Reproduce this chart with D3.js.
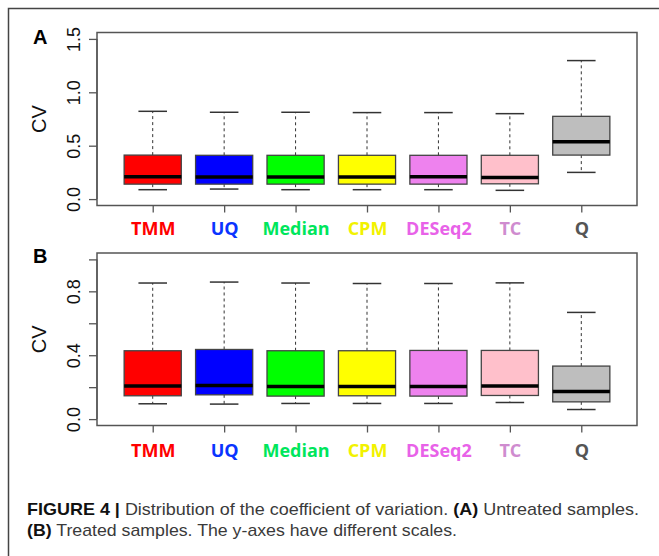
<!DOCTYPE html>
<html>
<head>
<meta charset="utf-8">
<script src="https://cdn.jsdelivr.net/npm/d3@7"></script>
<style>
  body { margin: 0; background: #fff; }
</style>
</head>
<body>
<div class="chart-container"></div>
<script>
const methods = ["TMM", "UQ", "Median", "CPM", "DESeq2", "TC", "Q"];
const boxFills = ["#ff0000", "#0000ff", "#00ff00", "#ffff00", "#ee82ee", "#ffc0cb", "#bebebe"];
const labelColors = ["#ff0000", "#0a34ff", "#00e65c", "#f2f200", "#e862e8", "#cf8ccf", "#555555"];

// panel A: untreated samples
const aLow  = [0.088, 0.094, 0.088, 0.088, 0.088, 0.082, 0.250];
const aQ1   = [0.140, 0.140, 0.140, 0.140, 0.140, 0.143, 0.412];
const aMed  = [0.210, 0.206, 0.206, 0.206, 0.210, 0.203, 0.538];
const aQ3   = [0.412, 0.410, 0.410, 0.410, 0.410, 0.410, 0.775];
const aHigh = [0.822, 0.813, 0.813, 0.810, 0.810, 0.800, 1.297];
const aTicks = [0, 0.5, 1.0, 1.5];
const aTickLabels = ["0.0", "0.5", "1.0", "1.5"];

// panel B: treated samples
const bLow  = [0.096, 0.094, 0.098, 0.098, 0.098, 0.104, 0.060];
const bQ1   = [0.146, 0.152, 0.144, 0.146, 0.144, 0.148, 0.108];
const bMed  = [0.208, 0.210, 0.204, 0.204, 0.204, 0.208, 0.173];
const bQ3   = [0.428, 0.436, 0.428, 0.428, 0.430, 0.430, 0.332];
const bHigh = [0.852, 0.858, 0.852, 0.849, 0.849, 0.853, 0.668];
const bTicks = [0, 0.2, 0.4, 0.6, 0.8, 1.0];
const bTickLabels = ["0.0", "", "0.4", "", "0.8", ""];

const width = 659, height = 556;

const svg = d3.select(".chart-container").append("svg")
    .attr("width", width)
    .attr("height", height);

// outer figure frame
svg.append("rect")
    .attr("x", 8.5).attr("y", 8.5)
    .attr("width", 700).attr("height", 600)
    .attr("fill", "none")
    .attr("stroke", "#444")
    .attr("stroke-width", 1.5);

function drawPanel(o) {
    const x = d3.scaleLinear()
        .domain([0.22, 7.78])
        .range([97, 637]);
    const y = d3.scaleLinear()
        .domain(o.yDomain)
        .range([o.bottom, o.top]);

    const data = methods.map((m, i) => ({
        name: m, pos: i + 1, fill: boxFills[i],
        low: o.low[i], q1: o.q1[i], med: o.med[i], q3: o.q3[i], high: o.high[i]
    }));

    const g = svg.append("g");

    // whiskers
    g.selectAll(".whisk-up").data(data).enter().append("line")
        .attr("x1", d => x(d.pos)).attr("x2", d => x(d.pos))
        .attr("y1", d => y(d.q3)).attr("y2", d => y(d.high))
        .attr("stroke", "#333").attr("stroke-dasharray", "3,3");
    g.selectAll(".whisk-down").data(data).enter().append("line")
        .attr("x1", d => x(d.pos)).attr("x2", d => x(d.pos))
        .attr("y1", d => y(d.q1)).attr("y2", d => y(d.low))
        .attr("stroke", "#333").attr("stroke-dasharray", "3,3");
    // staples
    ["high", "low"].forEach(k => {
        g.selectAll(".cap-" + k).data(data).enter().append("line")
            .attr("x1", d => x(d.pos - 0.2)).attr("x2", d => x(d.pos + 0.2))
            .attr("y1", d => y(d[k])).attr("y2", d => y(d[k]))
            .attr("stroke", "#333").attr("stroke-width", 1.5);
    });
    // boxes
    g.selectAll(".box").data(data).enter().append("rect")
        .attr("x", d => x(d.pos - 0.4))
        .attr("y", d => y(d.q3))
        .attr("width", d => x(d.pos + 0.4) - x(d.pos - 0.4))
        .attr("height", d => y(d.q1) - y(d.q3))
        .attr("fill", d => d.fill)
        .attr("stroke", "#444")
        .attr("stroke-width", 1.3);
    // medians
    g.selectAll(".med").data(data).enter().append("line")
        .attr("x1", d => x(d.pos - 0.4)).attr("x2", d => x(d.pos + 0.4))
        .attr("y1", d => y(d.med)).attr("y2", d => y(d.med))
        .attr("stroke", "#000").attr("stroke-width", 3.5);

    // plot frame
    g.append("rect")
        .attr("x", 97).attr("y", o.top)
        .attr("width", 540).attr("height", o.bottom - o.top)
        .attr("fill", "none")
        .attr("stroke", "#555")
        .attr("stroke-width", 1.5);

    // y axis
    const yAxis = g.append("g")
        .attr("transform", "translate(97,0)")
        .call(d3.axisLeft(y).tickValues(o.ticks)
            .tickFormat((d, i) => o.tickLabels[i]).tickSize(8));
    yAxis.select(".domain")
        .attr("d", `M0,${y(o.ticks[0])}V${y(o.ticks[o.ticks.length - 1])}`)
        .attr("stroke", "#555").attr("stroke-width", 1.3);
    yAxis.selectAll(".tick line").attr("stroke", "#555").attr("stroke-width", 1.3);
    yAxis.selectAll("text")
        .attr("transform", "rotate(-90)")
        .attr("x", 0).attr("y", -17).attr("dy", 0)
        .attr("text-anchor", "middle")
        .style("font-family", "'Liberation Sans', Arial, sans-serif")
        .style("font-size", "18px")
        .attr("fill", "#111");

    // x axis
    const xAxis = g.append("g")
        .attr("transform", `translate(0,${o.bottom})`)
        .call(d3.axisBottom(x).tickValues(d3.range(1, methods.length + 1))
            .tickFormat(d => methods[d - 1]).tickSize(7));
    xAxis.select(".domain").remove();
    xAxis.selectAll(".tick line").attr("stroke", "#555").attr("stroke-width", 1.3);
    xAxis.selectAll("text")
        .attr("y", o.labelY).attr("dy", 0)
        .style("font-family", "'Open Sans', sans-serif")
        .style("font-weight", "bold")
        .style("font-size", "18px")
        .attr("fill", (d, i) => labelColors[i]);

    // axis title
    g.append("text")
        .attr("transform", `translate(46,${(o.top + o.bottom) / 2}) rotate(-90)`)
        .attr("text-anchor", "middle")
        .style("font-family", "'Liberation Sans', Arial, sans-serif")
        .style("font-size", "20px")
        .attr("fill", "#111")
        .text("CV");

    // panel letter
    g.append("text")
        .attr("x", 33).attr("y", o.letterY)
        .style("font-family", "'Liberation Sans', Arial, sans-serif")
        .style("font-weight", "bold")
        .style("font-size", "20px")
        .attr("fill", "#000")
        .text(o.letter);
}

drawPanel({ letter: "A", letterY: 43.5, top: 32.5, bottom: 205.5, yDomain: [-0.06, 1.56],
    ticks: aTicks, tickLabels: aTickLabels, labelY: 29,
    low: aLow, q1: aQ1, med: aMed, q3: aQ3, high: aHigh });
drawPanel({ letter: "B", letterY: 262.5, top: 253, bottom: 425.5, yDomain: [-0.04, 1.04],
    ticks: bTicks, tickLabels: bTickLabels, labelY: 31,
    low: bLow, q1: bQ1, med: bMed, q3: bQ3, high: bHigh });

// caption
const cap = svg.append("g")
    .style("font-family", "'Liberation Sans Narrow', 'Liberation Sans', Arial, sans-serif")
    .style("font-size", "17px");
const line1 = cap.append("text").attr("x", 27).attr("y", 514.5)
    .attr("textLength", 612).attr("lengthAdjust", "spacingAndGlyphs");
line1.append("tspan").attr("font-weight", "bold").attr("fill", "#111").text("FIGURE 4 | ");
line1.append("tspan").attr("fill", "#3a3a3a").text("Distribution of the coefficient of variation. ");
line1.append("tspan").attr("font-weight", "bold").attr("fill", "#111").text("(A)");
line1.append("tspan").attr("fill", "#3a3a3a").text(" Untreated samples.");
const line2 = cap.append("text").attr("x", 27).attr("y", 535.5)
    .attr("textLength", 430).attr("lengthAdjust", "spacingAndGlyphs");
line2.append("tspan").attr("font-weight", "bold").attr("fill", "#111").text("(B)");
line2.append("tspan").attr("fill", "#3a3a3a").text(" Treated samples. The y-axes have different scales.");
</script>
</body>
</html>
